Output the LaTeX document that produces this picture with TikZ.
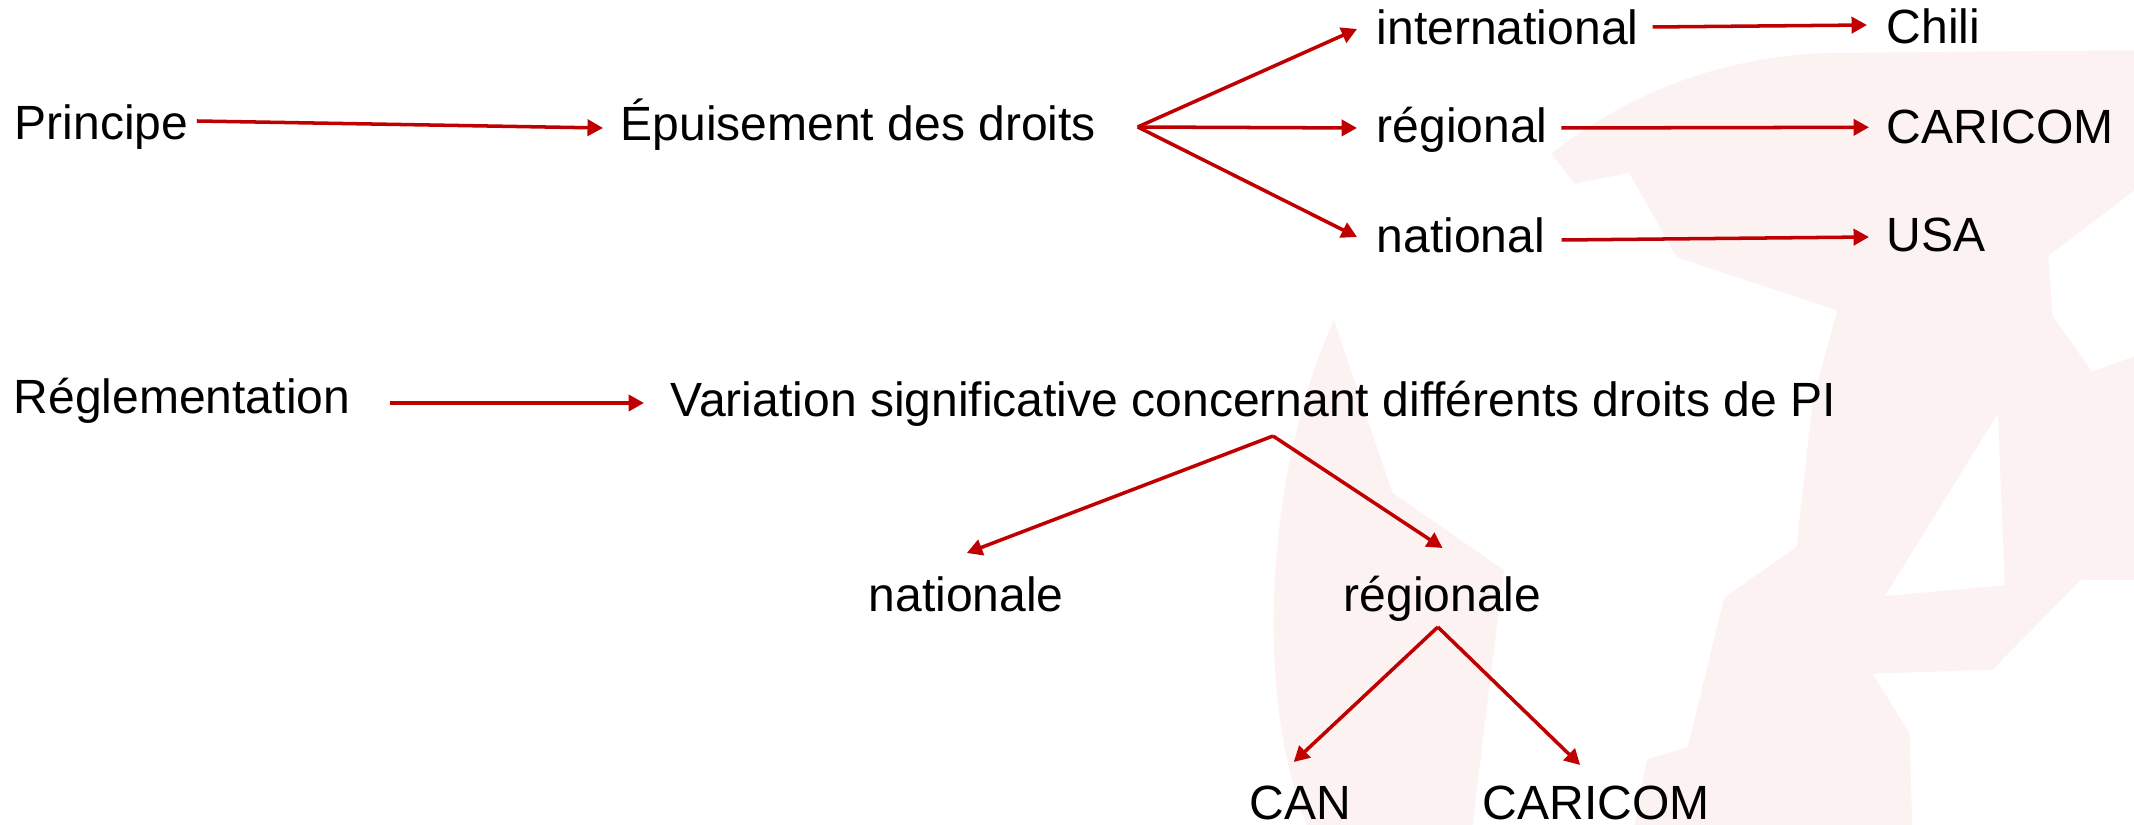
\documentclass[tikz,border=0pt]{standalone}
\usepackage{fontspec}
\setmainfont{Liberation Sans}
\usetikzlibrary{arrows.meta,calc}
\definecolor{arrred}{RGB}{192,0,0}
\definecolor{wmpink}{RGB}{253,242,242}
\begin{document}
\begin{tikzpicture}[x=0.01cm,y=-0.01cm,
  lbl/.style={anchor=base west,inner sep=0pt,font=\fontsize{13.66pt}{16pt}\selectfont},
  arr/.style={draw=arrred,line width=1pt,-{Triangle[length=4.4pt,width=4.6pt]}},
  wm/.style={fill=wmpink,draw=none}]
\useasboundingbox (0,0) rectangle (2134,825);
\fill[white] (0,0) rectangle (2134,825);
% faint background watermark
\begin{scope}[scale=1.361]
 \fill[wm] (980,235) -- (1004,306) -- (1023,362) -- (1105,419) -- (1090,539) -- (1082,606) -- (960,606)
   .. controls (925,520) and (925,360) .. (980,235) -- cycle;
 \fill[wm] (1140,113) .. controls (1200,65) and (1270,42) .. (1340,39) -- (1568,37) -- (1568,140)
   -- (1505,188) -- (1508,232) -- (1537,273) -- (1568,262) -- (1568,426) -- (1529,426)
   -- (1464,492) -- (1376,495) -- (1403,539) -- (1405,606) -- (1201,606) -- (1210,558)
   -- (1240,549) -- (1267,439) -- (1320,402) -- (1332,294) -- (1350,228) -- (1232,189)
   -- (1197,127) -- (1157,135) -- cycle;
 \fill[white] (1468,304) -- (1473,430) -- (1385,438) -- cycle;
\end{scope}
% texts
\node[lbl] (p) at (14,139.5) {Principe};
\node[lbl] (e) at (620,140.5) {Épuisement des droits};
\node[lbl] (int) at (1376,45) {international};
\node[lbl] (reg) at (1376,143) {régional};
\node[lbl] (nat) at (1376,253) {national};
\node[lbl] (chi) at (1886,44) {Chili};
\node[lbl] (car) at (1886,143.3) {CARICOM};
\node[lbl] (usa) at (1886,252) {USA};
\node[lbl] (rgl) at (13,414) {Réglementation};
\node[lbl] (var) at (670,417) {Variation significative concernant différents droits de PI};
\node[lbl] (nle) at (868,611) {nationale};
\node[lbl] (rle) at (1343,611) {régionale};
\node[lbl] (can) at (1249,819) {CAN};
\node[lbl] (car2) at (1482,819) {CARICOM};
% junctions
\coordinate (f1) at ($(e.base east)+(41,-13.5)$);
\coordinate (f2) at ($(var.base west)+(603,19)$);
\coordinate (f3) at ($(rle.base)+(-4.7,16)$);
% connectors
\draw[arr] ($(p.base east)+(8,-18.5)$) -- ($(e.base west)+(-17,-12.5)$);
\draw[arr] (f1) -- ($(int.base west)+(-19,-16)$);
\draw[arr] (f1) -- ($(reg.base west)+(-19,-15)$);
\draw[arr] (f1) -- ($(nat.base west)+(-19,-16)$);
\draw[arr] ($(int.base east)+(13.5,-18)$) -- ($(chi.base west)+(-19,-19)$);
\draw[arr] ($(reg.base east)+(13,-15)$) -- ($(car.base west)+(-17,-16)$);
\draw[arr] ($(nat.base east)+(16,-13)$) -- ($(usa.base west)+(-17,-15)$);
\draw[arr] ($(rgl.base east)+(39,-11)$) -- ($(var.base west)+(-26,-14)$);
\draw[arr] (f2) -- ($(nle.base)+(0.6,-58)$);
\draw[arr] (f2) -- ($(rle.base)+(0,-63)$);
\draw[arr] (f3) -- ($(can.base)+(-6.7,-57)$);
\draw[arr] (f3) -- ($(car2.base)+(-16,-54)$);
\end{tikzpicture}
\end{document}
